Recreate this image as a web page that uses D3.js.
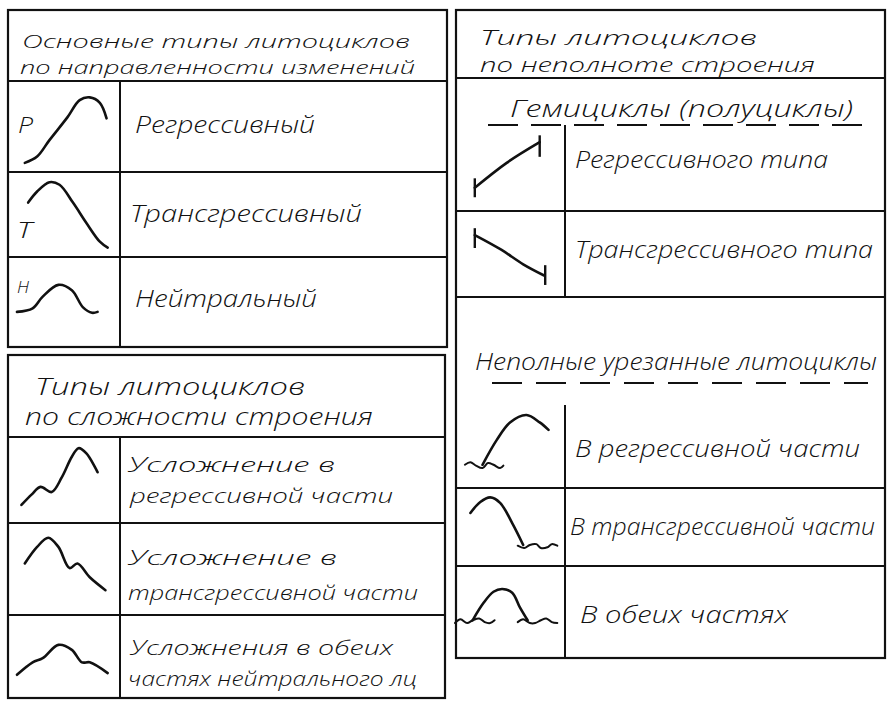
<!DOCTYPE html>
<html>
<head>
<meta charset="utf-8">
<script src="https://cdn.jsdelivr.net/npm/d3@7"></script>
<style>
  body { margin: 0; background: #fff; }
  svg { display: block; }
  .lbl { font-family: "Open Sans", "DejaVu Sans", sans-serif; font-style: italic; font-weight: 300; font-size: 23px; fill: #111; }
</style>
</head>
<body>
<svg id="chart" width="889" height="701"></svg>
<script>
// ---- data ----
const directionTitle = ["Основные типы литоциклов", "по направленности изменений"];
const directionLabels = ["Регрессивный", "Трансгрессивный", "Нейтральный"];
const directionMarks = ["Р", "Т", "Н"];

const complexityTitle = ["Типы литоциклов", "по сложности строения"];
const complexityLabels = [
  ["Усложнение в", "регрессивной части"],
  ["Усложнение в", "трансгрессивной части"],
  ["Усложнения в обеих", "частях нейтрального лц"]
];

const incompleteTitle = ["Типы литоциклов", "по неполноте строения"];
const hemiTitle = "Гемициклы (полуциклы)";
const hemiLabels = ["Регрессивного типа", "Трансгрессивного типа"];
const truncTitle = "Неполные урезанные литоциклы";
const truncLabels = ["В регрессивной части", "В трансгрессивной части", "В обеих частях"];

// curve shapes, in percent of their icon cell (x right, y down)
const curveRegressive = [[15,90],[26,83],[37,65],[53,40],[64,21],[73,18],[82,24],[88,41]];
const curveTransgressive = [[18,36],[26,23],[37,12],[46,15],[58,36],[70,60],[82,82],[89,89]];
const curveNeutral = [[8,61],[22,57],[31,44],[45,31],[57,37],[67,56],[75,62],[80,61]];
const markPos = [[9,57],[8,78],[8,40]];

const curveComplexReg = [[12,79],[21,67],[29,58],[39,64],[48,47],[57,23],[63,13],[70,19],[80,41]];
const curveComplexTrans = [[15,44],[26,26],[36,16],[45,26],[55,49],[62,44],[73,59],[87,73]];
const curveComplexBoth = [[8,72],[22,57],[31,52],[45,36],[57,42],[66,57],[73,57],[89,70]];

const hemiRegressive = [[18,73],[47,44],[77,20]];
const hemiTransgressive = [[18,28],[42,45],[62,62],[81,75]];
const hemiRegTicks = [[18,62,84],[77,12,37]];
const hemiTransTicks = [[18,20,43],[82,63,86]];

const truncRegCurve = [[25,72],[38,42],[50,21],[65,12],[77,21],[85,30]];
const truncRegWave = [[9,72],[14,69],[19,73],[25,76],[30,70],[35,72],[41,76],[44,73]];
const truncTransCurve = [[14,32],[23,18],[32,12],[41,19],[52,45],[62,73]];
const truncTransWave = [[57,74],[63,77],[68,73],[74,72],[78,77],[84,76],[88,72],[93,74]];
const truncBothCurve = [[16,59],[26,40],[35,28],[43,25],[52,29],[59,45],[66,59]];
const truncBothWaveL = [[0,62],[5,58],[11,62],[16,59],[22,57],[27,61],[32,62],[36,59]];
const truncBothWaveR = [[57,61],[62,58],[68,62],[73,62],[78,59],[83,57],[88,61],[93,62]];

// ---- drawing ----
const svg = d3.select("#chart");
svg.append("rect").attr("width", 889).attr("height", 701).attr("fill", "#fff");
const g = svg.append("g");

function cell(x0, x1, y0, y1) {
  return {
    x: d3.scaleLinear().domain([0, 100]).range([x0, x1]),
    y: d3.scaleLinear().domain([0, 100]).range([y0, y1])
  };
}

function rule(x1, y1, x2, y2, w, dash) {
  const l = g.append("line")
    .attr("x1", x1).attr("y1", y1).attr("x2", x2).attr("y2", y2)
    .attr("stroke", "#111").attr("stroke-width", w || 2);
  if (dash) l.attr("stroke-dasharray", dash);
  return l;
}

function box(x0, y0, x1, y1) {
  g.append("rect").attr("x", x0).attr("y", y0)
    .attr("width", x1 - x0).attr("height", y1 - y0)
    .attr("fill", "none").attr("stroke", "#111").attr("stroke-width", 2.2);
}

function label(txt, x0, x1, y, size) {
  g.append("text").attr("class", "lbl")
    .attr("x", x0).attr("y", y)
    .style("font-size", (size || 23) + "px")
    .attr("textLength", x1 - x0)
    .attr("lengthAdjust", "spacingAndGlyphs")
    .text(txt);
}

function curve(c, pts, w) {
  const line = d3.line()
    .x(function(d) { return c.x(d[0]); })
    .y(function(d) { return c.y(d[1]); })
    .curve(d3.curveCatmullRom.alpha(0.5));
  g.append("path").attr("d", line(pts))
    .attr("fill", "none").attr("stroke", "#111")
    .attr("stroke-width", w || 2.6)
    .attr("stroke-linecap", "round").attr("stroke-linejoin", "round");
}

function ticks(c, list) {
  list.forEach(function(t) {
    rule(c.x(t[0]), c.y(t[1]), c.x(t[0]), c.y(t[2]), 2.4);
  });
}

// panel 1: direction of change
box(8, 10, 447, 347);
rule(8, 81, 447, 81);
rule(120, 81, 120, 347);
rule(8, 172, 447, 172);
rule(8, 257, 447, 257);
label(directionTitle[0], 22, 410, 48, 18);
label(directionTitle[1], 20, 415, 74, 18);
const dirRows = [[81, 172], [172, 257], [257, 347]];
const dirLabelX = [[135, 315, 133], [130, 362, 222], [135, 317, 307]];
const dirCurves = [curveRegressive, curveTransgressive, curveNeutral];
dirRows.forEach(function(r, i) {
  const c = cell(8, 120, r[0], r[1]);
  curve(c, dirCurves[i]);
  label(directionMarks[i], c.x(markPos[i][0]), c.x(markPos[i][0]) + (i === 2 ? 12 : 15),
        c.y(markPos[i][1]), i === 2 ? 17 : 22);
  label(directionLabels[i], dirLabelX[i][0], dirLabelX[i][1], dirLabelX[i][2]);
});

// panel 2: complexity
box(8, 355, 445, 698);
rule(8, 437, 445, 437);
rule(120, 437, 120, 698);
rule(8, 523, 445, 523);
rule(8, 615, 445, 615);
label(complexityTitle[0], 35, 305, 395);
label(complexityTitle[1], 25, 373, 425);
const cxRows = [[437, 523], [523, 615], [615, 698]];
const cxCurves = [curveComplexReg, curveComplexTrans, curveComplexBoth];
const cxLabelPos = [
  [[128, 335, 472], [130, 393, 503]],
  [[128, 337, 565], [128, 418, 600]],
  [[130, 393, 655], [128, 417, 686]]
];
cxRows.forEach(function(r, i) {
  const c = cell(8, 120, r[0], r[1]);
  curve(c, cxCurves[i]);
  complexityLabels[i].forEach(function(t, j) {
    const p = cxLabelPos[i][j];
    label(t, p[0], p[1], p[2], 21);
  });
});

// panel 3: incompleteness
box(456, 10, 885, 658);
rule(456, 78, 885, 78);
label(incompleteTitle[0], 480, 757, 45, 21);
label(incompleteTitle[1], 480, 815, 72, 21);
label(hemiTitle, 510, 853, 117);
rule(488, 125, 863, 125, 2, "30 13");
rule(565, 125, 565, 297);
rule(456, 211, 885, 211);
rule(456, 297, 885, 297);

const h1 = cell(455, 565, 125, 211);
curve(h1, hemiRegressive);
ticks(h1, hemiRegTicks);
label(hemiLabels[0], 575, 828, 168);
const h2 = cell(455, 565, 211, 297);
curve(h2, hemiTransgressive);
ticks(h2, hemiTransTicks);
label(hemiLabels[1], 575, 873, 258);

label(truncTitle, 475, 877, 370);
rule(492, 383, 868, 383, 2, "30 14");
rule(565, 405, 565, 658);
rule(456, 488, 885, 488);
rule(456, 566, 885, 566);

const t1 = cell(455, 565, 405, 488);
curve(t1, truncRegCurve);
curve(t1, truncRegWave, 2);
label(truncLabels[0], 575, 860, 457);
const t2 = cell(455, 565, 488, 566);
curve(t2, truncTransCurve);
curve(t2, truncTransWave, 2);
label(truncLabels[1], 570, 875, 535);
const t3 = cell(455, 565, 566, 658);
curve(t3, truncBothCurve);
curve(t3, truncBothWaveL, 2);
curve(t3, truncBothWaveR, 2);
label(truncLabels[2], 580, 788, 623);
</script>
</body>
</html>
